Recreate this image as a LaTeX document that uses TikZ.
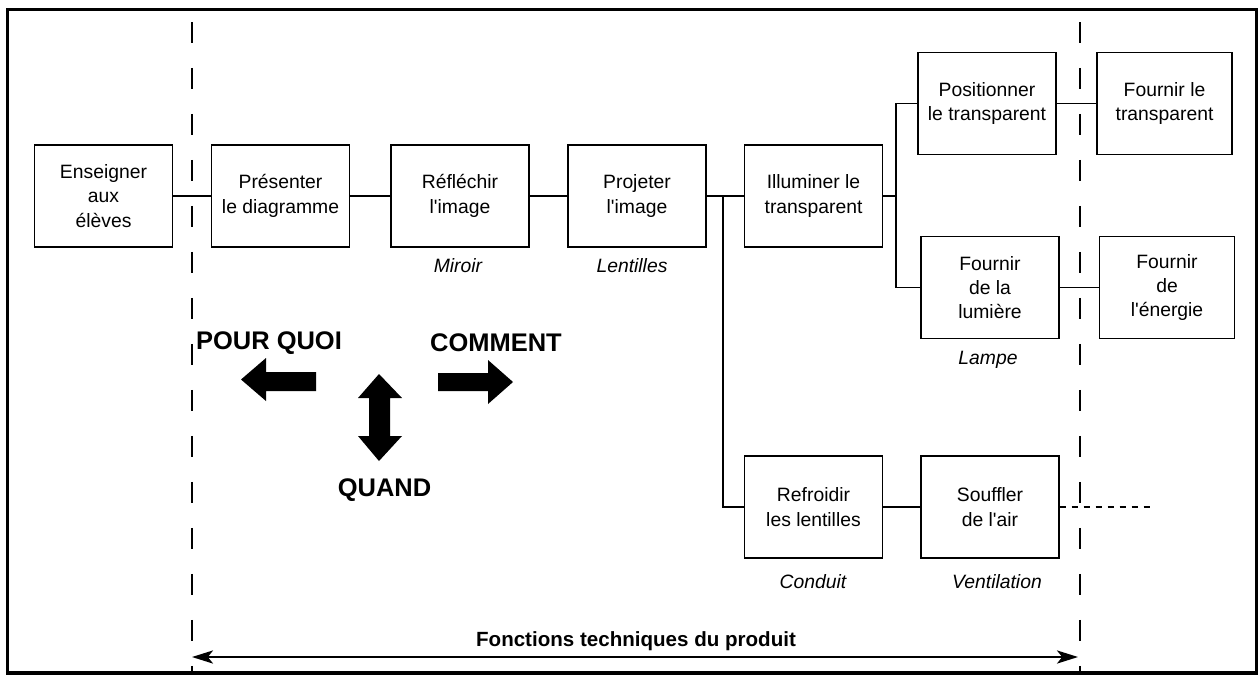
\documentclass[tikz,border=0pt]{standalone}
\usepackage{fontspec}
\setmainfont{Liberation Sans}[Ligatures=TeXOff]
\usetikzlibrary{arrows.meta}
\begin{document}
\begin{tikzpicture}[x=0.02cm,y=-0.02cm,
 fbox/.style={draw, line width=0.8pt, minimum width=2.76cm, minimum height=2.04cm, align=center, inner sep=0pt, font=\fontsize{11}{13.8}\selectfont},
 wbox/.style={fbox, minimum width=2.7cm},
 lbl/.style={font=\fontsize{11}{13}\selectfont\itshape, inner sep=0pt},
 big/.style={font=\fontsize{14.5}{17}\selectfont\bfseries, inner sep=0pt},
 conn/.style={line width=0.75pt},
 vdash/.style={line width=0.8pt, dash pattern=on 0.42cm off 0.5cm},
 sdash/.style={line width=0.75pt, dash pattern=on 0.12cm off 0.12cm},
 blk/.style={fill=black, draw=none},
 span/.style={line width=1pt, >={Stealth[length=12pt,width=7.5pt,inset=3pt]}, <->}]
\useasboundingbox (0,0) rectangle (1260,680);
\fill[white] (0,0) rectangle (1260,680);
\draw[line width=1.9pt] (7.5,9.5) rectangle (1256.5,673);
% dashed boundaries
\draw[vdash] (192,22) -- (192,671);
\draw[vdash] (1080,22) -- (1080,671);
% boxes
\node[fbox] (ens) at (103.5,196) {Enseigner\\aux\\élèves};
\node[fbox] (pres) at (280.5,196) {Présenter\\le diagramme};
\node[fbox] (refl) at (460,196) {Réfléchir\\l'image};
\node[fbox] (proj) at (637,196) {Projeter\\l'image};
\node[fbox] (illu) at (813.5,196) {Illuminer le\\transparent};
\node[fbox] (posi) at (987,103.5) {Positionner\\le transparent};
\node[wbox] (ftra) at (1164.5,103.5) {Fournir le\\transparent};
\node[fbox] (flum) at (990,287.5) {Fournir\\de la\\lumière};
\node[wbox] (fene) at (1167,287.5) {Fournir\\de\\l'énergie};
\node[fbox] (refr) at (813.5,507) {Refroidir\\les lentilles};
\node[fbox] (souf) at (990,507) {Souffler\\de l'air};
% italic labels
\node[lbl] (mir) at (458,266) {Miroir};
\node[lbl] (len) at (632,266) {Lentilles};
\node[lbl] (lam) at (988,360) {Lampe};
\node[lbl] (con) at (813,582) {Conduit};
\node[lbl] (ven) at (997,582) {Ventilation};
% connectors
\coordinate (j1) at (723,196);
\coordinate (j2) at (896,196);
\coordinate (dend) at (1155,507);
\draw[conn] (ens.east) -- (pres.west);
\draw[conn] (pres.east) -- (refl.west);
\draw[conn] (refl.east) -- (proj.west);
\draw[conn] (proj.east) -- (illu.west);
\draw[conn] (j1) |- (refr.west);
\draw[conn] (illu.east) -- (j2);
\draw[conn] (posi.west) -| (j2) |- (flum.west);
\draw[conn] (posi.east |- ftra.west) -- (ftra.west);
\draw[conn] (flum.east) -- (fene.west);
\draw[conn] (refr.east) -- (souf.west);
\draw[sdash] (souf.east) -- (dend);
% big labels and block arrows
\node[big] (pq) at (269,343) {POUR QUOI};
\node[big] (cm) at (496,343) {COMMENT};
\node[big] (qd) at (384.5,490) {QUAND};
\fill[blk] (241,379.5) -- (266,358) -- (266,372) -- (316,372) -- (316,391) -- (266,391) -- (266,401) -- cycle;
\fill[blk] (513,382) -- (488,360) -- (488,373) -- (438,373) -- (438,391) -- (488,391) -- (488,404) -- cycle;
\fill[blk] (379,374) -- (402,398) -- (390,398) -- (390,436) -- (402,436) -- (379,461) -- (358,436) -- (369,436) -- (369,398) -- (358,398) -- cycle;
% bottom span arrow
\coordinate (aL) at (192,657);
\coordinate (aR) at (1078,657);
\draw[span] (aL) -- (aR);
\node[font=\fontsize{11.7}{14}\selectfont\bfseries, inner sep=0pt] (ftp) at (636,641) {Fonctions techniques du produit};
\end{tikzpicture}
\end{document}
